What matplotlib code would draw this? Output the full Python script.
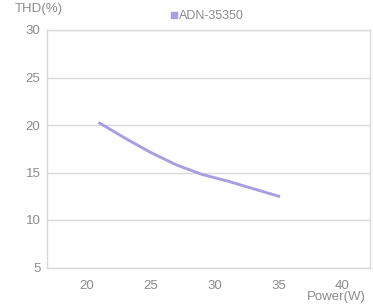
import matplotlib
matplotlib.use("Agg")
import matplotlib.pyplot as plt
from matplotlib.lines import Line2D

plt.rcParams["font.family"] = ["Liberation Sans", "DejaVu Sans"]

# data
power = [21, 23, 25, 27, 29, 31, 33, 35]
thd = [20.2, 18.6, 17.1, 15.8, 14.8, 14.1, 13.3, 12.5]
x_ticks = [20, 25, 30, 35, 40]
y_ticks = [5, 10, 15, 20, 25, 30]
series_name = "ADN-35350"

COLOR_LINE = "#AA9EE3"
COLOR_GRID = "#D9D9D9"
COLOR_TEXT = "#8C8C8C"

fig = plt.figure(figsize=(3.73, 3.08), dpi=100)
ax = fig.add_axes([47.3 / 373, 1 - 267.5 / 308, (370 - 47.3) / 373, (267.5 - 30) / 308])

ax.plot(power, thd, color=COLOR_LINE, lw=2.1, solid_joinstyle="round")

ax.set_xlim(16.9, 42.15)
ax.set_ylim(5, 30)
ax.set_xticks(x_ticks)
ax.set_yticks(y_ticks)
ax.yaxis.grid(True, color=COLOR_GRID, lw=1)
ax.set_axisbelow(True)
for s in ax.spines.values():
    s.set_color(COLOR_GRID)
    s.set_linewidth(1)
ax.tick_params(length=0, labelsize=9.5, colors=COLOR_TEXT)
ax.tick_params(axis="x", pad=9)
ax.tick_params(axis="y", pad=5)

fig.text(15 / 373, 1 - 9 / 308, "THD(%)", fontsize=9.5, color=COLOR_TEXT, va="center", ha="left")
fig.text(366 / 373, 1 - 297 / 308, "Power(W)", fontsize=9.5, color=COLOR_TEXT, va="center", ha="right")

handle = Line2D([], [], color=COLOR_LINE, marker="s", ms=5, ls="none")
fig.legend([handle], [series_name], loc="center", bbox_to_anchor=(207 / 373, 1 - 16 / 308),
           frameon=False, fontsize=9, labelcolor=COLOR_TEXT, handlelength=0.6,
           handletextpad=0.05, borderpad=0)

fig.savefig("out.png", dpi=100)
